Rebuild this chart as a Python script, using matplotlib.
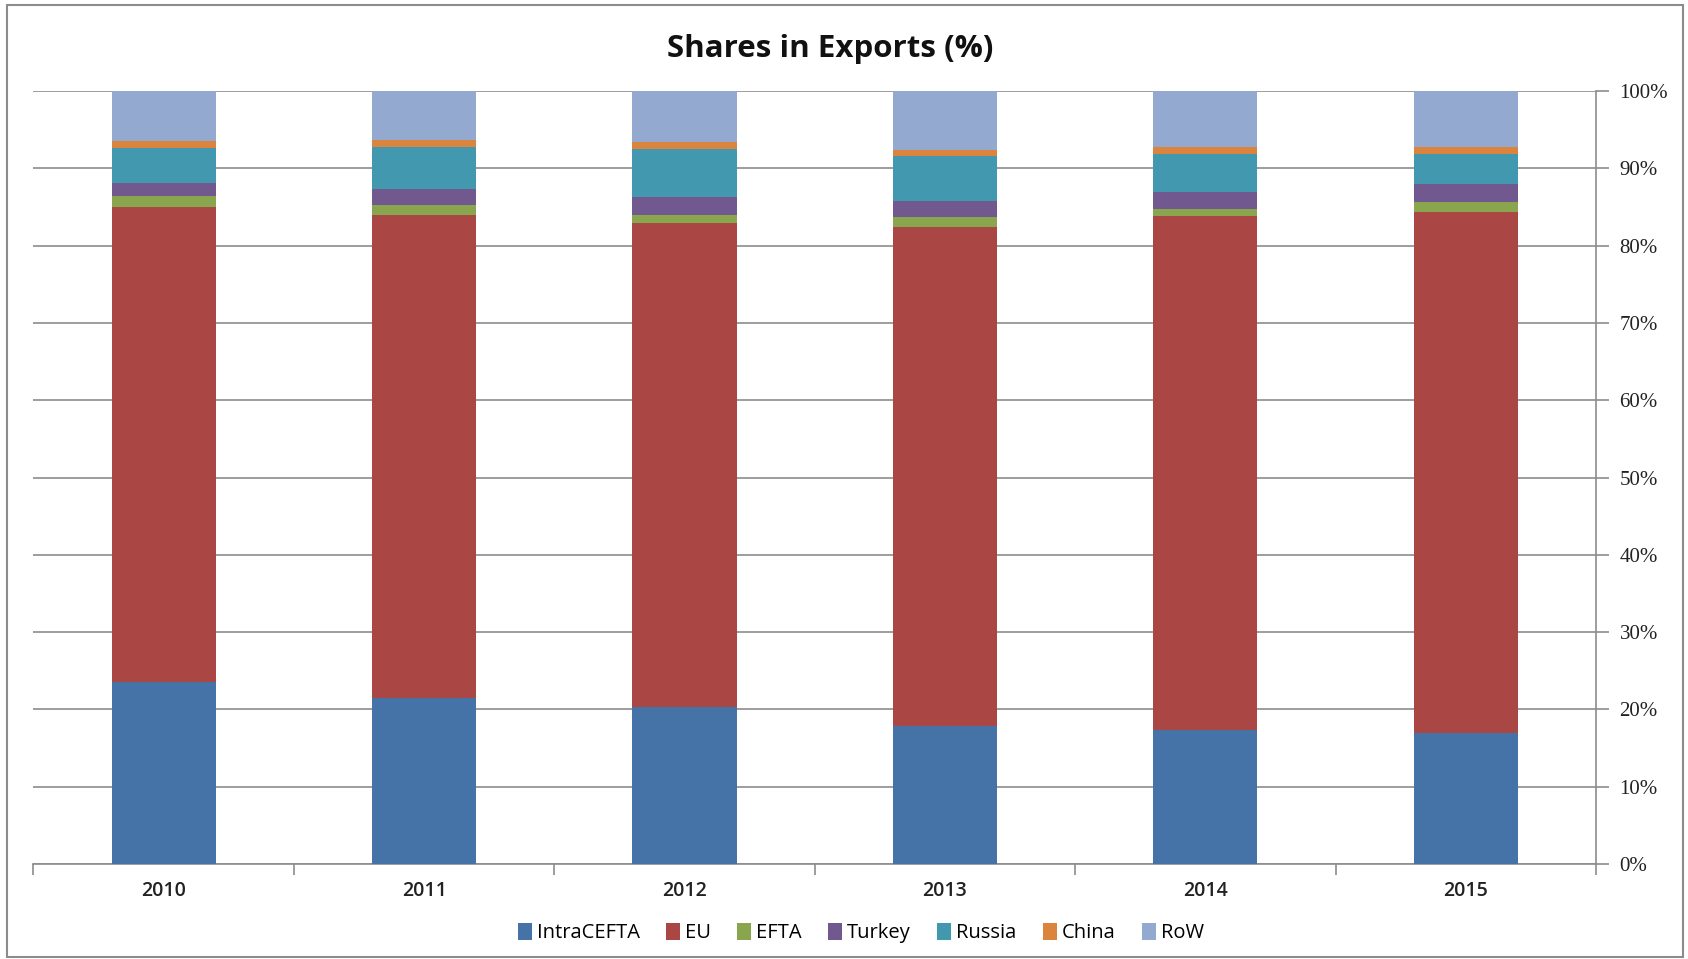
import numpy as np
import matplotlib.pyplot as plt
from matplotlib.patches import Rectangle
from matplotlib.ticker import FuncFormatter, MultipleLocator

years = ['2010', '2011', '2012', '2013', '2014', '2015']
series = ['IntraCEFTA', 'EU', 'EFTA', 'Turkey', 'Russia', 'China', 'RoW']

# shares in exports by destination, percent of total
intra_cefta = [23.6, 21.5, 20.3, 17.9, 17.4, 16.9]
eu = [61.4, 62.5, 62.7, 64.5, 66.4, 67.5]
efta = [1.45, 1.25, 1.0, 1.26, 1.0, 1.2]
turkey = [1.65, 2.1, 2.3, 2.14, 2.2, 2.4]
russia = [4.5, 5.4, 6.2, 5.75, 4.9, 3.9]
china = [0.95, 0.9, 0.86, 0.82, 0.9, 0.9]
row = [6.45, 6.35, 6.64, 7.63, 7.2, 7.2]

colors = ['#4572A7', '#AA4643', '#89A54E', '#71588F', '#4198AF', '#DB843D', '#93A9CF']

fig = plt.figure(figsize=(16.88, 9.59), dpi=100)
ax = fig.add_axes([0.0198, 0.099, 0.9257, 0.806])

x = np.arange(len(years))
bottom = np.zeros(len(years))
for name, vals, c in zip(series, [intra_cefta, eu, efta, turkey, russia, china, row], colors):
    vals = np.array(vals)
    ax.bar(x, vals, width=0.4, bottom=bottom, color=c, label=name, zorder=3)
    bottom += vals

ax.set_xlim(-0.5, len(years) - 0.5)
ax.set_ylim(0, 100)

# y axis on the right, percent labels
ax.yaxis.tick_right()
ax.yaxis.set_major_locator(MultipleLocator(10))
ax.yaxis.set_major_formatter(FuncFormatter(lambda v, p: f'{v:.0f}%'))
ax.grid(axis='y', color='#8c8c8c', linewidth=1.2, zorder=0)
for lab in ax.get_yticklabels():
    lab.set_fontfamily('Liberation Serif')
    lab.set_fontsize(15)
    lab.set_color('#222222')
ax.tick_params(axis='y', direction='out', length=9, width=1.2, color='#8c8c8c', pad=8)

# category labels sit between boundary ticks
ax.set_xticks(x)
ax.set_xticklabels(years, fontsize=14, fontfamily='Open Sans', fontweight='semibold', color='#222222')
ax.tick_params(axis='x', length=0, pad=12)
ax.set_xticks(np.arange(-0.5, len(years)), minor=True)
ax.tick_params(axis='x', which='minor', direction='out', length=8, width=1.2, color='#8c8c8c')

for s in ['top', 'left']:
    ax.spines[s].set_visible(False)
for s in ['right', 'bottom']:
    ax.spines[s].set_color('#8c8c8c')
    ax.spines[s].set_linewidth(1.2)

fig.text(0.492, 0.949, 'Shares in Exports (%)', ha='center', va='center',
         fontsize=22.5, fontweight='bold', fontfamily='Open Sans', color='#111111')

leg = fig.legend(loc='center', bbox_to_anchor=(0.51, 0.027), ncol=7, frameon=False,
                 handlelength=0.7, handleheight=0.9, handletextpad=0.25, columnspacing=1.3,
                 prop={'family': 'Open Sans', 'size': 14.5})

fig.patches.append(Rectangle((0.004, 0.002), 0.993, 0.993, transform=fig.transFigure,
                             fill=False, edgecolor='#8c8c8c', linewidth=1.5))

fig.savefig('out.png', dpi=100)
